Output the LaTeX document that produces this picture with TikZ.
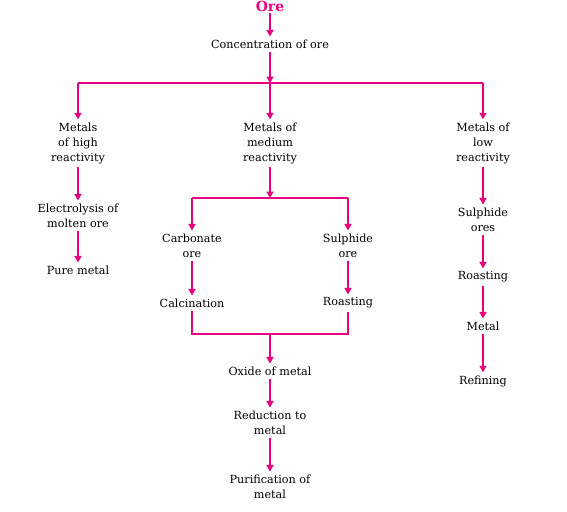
\documentclass[tikz,border=0pt]{standalone}
\usepackage{fontspec}
\setmainfont{DejaVu Serif}
\usetikzlibrary{arrows.meta}
\definecolor{oremag}{RGB}{230,0,126}

\begin{document}
\begin{tikzpicture}[x=1pt,y=-1pt,
    txt/.style={align=center,inner sep=3pt,font=\fontsize{11.2}{15}\selectfont},
    flow/.style={draw=oremag,line width=1.4pt,-{Triangle[length=6.5pt,width=7pt]}},
    link/.style={draw=oremag,line width=1.4pt}]
  \useasboundingbox (0,0) rectangle (567,511);
  % top of the chart
  \node[font=\bfseries\fontsize{14}{14}\selectfont,text=oremag,inner sep=2pt] (ore) at (270,6) {Ore};
  \node[txt] (conc) at (270,44) {Concentration of ore};
  \coordinate (bar) at (270,83);
  \coordinate (barL) at (78,83);
  \coordinate (barR) at (483,83);
  \node[txt] (high) at (78,143) {Metals\\of high\\reactivity};
  \node[txt] (medium) at (270,143) {Metals of\\medium\\reactivity};
  \node[txt] (low) at (483,143) {Metals of\\low\\reactivity};
  % high reactivity
  \node[txt] (electro) at (78,215.5) {Electrolysis of\\molten ore};
  \node[txt] (pure) at (78,270) {Pure metal};
  % medium reactivity
  \coordinate (mid) at (270,198);
  \coordinate (midL) at (192,198);
  \coordinate (midR) at (348,198);
  \node[txt] (carb) at (192,245.5) {Carbonate\\ore};
  \node[txt] (sulph) at (348,245.5) {Sulphide\\ore};
  \node[txt] (calc) at (192,303) {Calcination};
  \node[txt] (roastm) at (348,303) {Roasting};
  \coordinate (join) at (270,334);
  \coordinate (joinL) at (192,334);
  \coordinate (joinR) at (348,334);
  \node[txt] (oxide) at (270,371) {Oxide of metal};
  \node[txt] (reduce) at (270,422.5) {Reduction to\\metal};
  \node[txt] (purify) at (270,486.5) {Purification of\\metal};
  % low reactivity
  \node[txt] (sulphl) at (483,219.5) {Sulphide\\ores};
  \node[txt] (roastl) at (483,277) {Roasting};
  \node[txt] (metal) at (483,326) {Metal};
  \node[txt] (refine) at (483,381) {Refining};

  \draw[flow] (ore) -- (conc);
  \draw[flow] (conc) -- (bar);
  \draw[link] (barL) -- (barR);
  \draw[flow] (barL) -- (high);
  \draw[flow] (bar) -- (medium);
  \draw[flow] (barR) -- (low);
  \draw[flow] (high) -- (electro);
  \draw[flow] (electro) -- (pure);
  \draw[flow] (medium) -- (mid);
  \draw[link] (midL) -- (midR);
  \draw[flow] (midL) -- (carb);
  \draw[flow] (midR) -- (sulph);
  \draw[flow] (carb) -- (calc);
  \draw[flow] (sulph) -- (roastm);
  \draw[link] (calc.south -| joinL) -- (joinL) -- (joinR) -- (roastm.south -| joinR);
  \draw[flow] (join) -- (oxide);
  \draw[flow] (oxide) -- (reduce);
  \draw[flow] (reduce) -- (purify);
  \draw[flow] (low) -- (sulphl);
  \draw[flow] (sulphl) -- (roastl);
  \draw[flow] (roastl) -- (metal);
  \draw[flow] (metal) -- (refine);
\end{tikzpicture}
\end{document}
